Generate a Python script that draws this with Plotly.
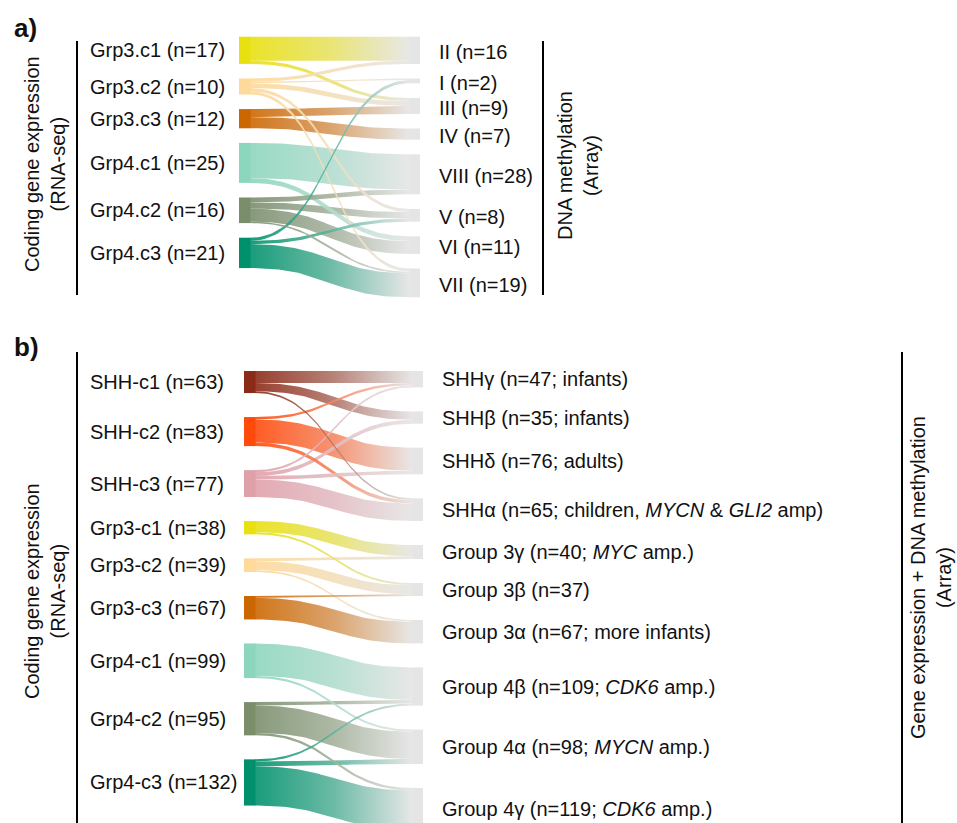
import numpy as np
import plotly.graph_objects as go

W, H = 957, 823
FONT = "Liberation Sans, Arial, Helvetica, sans-serif"

# ---------------- panel a data ----------------
A_LEFT = ["Grp3.c1", "Grp3.c2", "Grp3.c3", "Grp4.c1", "Grp4.c2", "Grp4.c3"]
A_LEFT_N = [17, 10, 12, 25, 16, 21]
A_RIGHT_LABELS = ["II (n=16", "I (n=2)", "III (n=9)", "IV (n=7)",
                  "VIII (n=28)", "V (n=8)", "VI (n=11)", "VII (n=19)"]
# rows: left clusters, cols: II, I, III, IV, VIII, V, VI, VII
A_FLOWS = [
    [15, 0, 2, 0, 0, 0, 0, 0],
    [2, 1, 3, 0, 0, 2, 0, 2],
    [0, 0, 5, 7, 0, 0, 0, 0],
    [0, 0, 0, 0, 22, 0, 3, 0],
    [0, 0, 0, 0, 3, 4, 8, 1],
    [0, 2, 0, 0, 0, 2, 0, 15],
]
A_COLORS = ["#e8e010", "#fdd99b", "#cc6600", "#8dd6be", "#7a8e6c", "#00916c"]

# ---------------- panel b data ----------------
B_LEFT = ["SHH-c1", "SHH-c2", "SHH-c3", "Grp3-c1", "Grp3-c2", "Grp3-c3",
          "Grp4-c1", "Grp4-c2", "Grp4-c3"]
B_LEFT_N = [63, 83, 77, 38, 39, 67, 99, 95, 132]
B_RIGHT_LABELS = [
    "SHHγ (n=47; infants)",
    "SHHβ (n=35; infants)",
    "SHHδ (n=76; adults)",
    "SHHα (n=65; children, <i>MYCN</i> & <i>GLI2</i> amp)",
    "Group 3γ (n=40; <i>MYC</i> amp.)",
    "Group 3β (n=37)",
    "Group 3α (n=67; more infants)",
    "Group 4β (n=109; <i>CDK6</i> amp.)",
    "Group 4α (n=98; <i>MYCN</i> amp.)",
    "Group 4γ (n=119; <i>CDK6</i> amp.)",
]
# cols: SHHg, SHHb, SHHd, SHHa, G3g, G3b, G3a, G4b, G4a, G4g
B_FLOWS = [
    [34, 24, 0, 5, 0, 0, 0, 0, 0, 0],
    [7, 0, 66, 10, 0, 0, 0, 0, 0, 0],
    [6, 11, 10, 50, 0, 0, 0, 0, 0, 0],
    [0, 0, 0, 0, 32, 6, 0, 0, 0, 0],
    [0, 0, 0, 0, 8, 26, 5, 0, 0, 0],
    [0, 0, 0, 0, 0, 5, 62, 0, 0, 0],
    [0, 0, 0, 0, 0, 0, 0, 93, 6, 0],
    [0, 0, 0, 0, 0, 0, 0, 10, 78, 7],
    [0, 0, 0, 0, 0, 0, 0, 6, 14, 112],
]
B_COLORS = ["#8b2a17", "#ff4a0c", "#e0a0aa", "#e8e010", "#fdd99b", "#cc6600",
            "#8dd6be", "#7a8e6c", "#00916c"]

# ---------------- layout geometry (styling) ----------------
GEOM_A = dict(top=36.7, scale=1.6, gap=14.6, lx0=239, lx1=250, rx0=410, rx1=420,
              llab=88, rlab=437, rlab_dy=2)
GEOM_B = dict(top=371, scale=0.35, gap=24, lx0=244, lx1=255, rx0=413, rx1=423,
              llab=88, rlab=440, rlab_dy=0)
NODE_GRAY = "#e5e5e5"
END_RGB = (229, 229, 229)
ALPHA = 0.9
MID_POS, MID_MIX = 0.5, 0.4

T = np.linspace(0, 1, 60)


def hex_rgb(h):
    h = h.lstrip("#")
    return tuple(int(h[i:i + 2], 16) for i in (0, 2, 4))


def mix(c, e, f):
    return tuple(round(a + (b - a) * f) for a, b in zip(c, e))


def stack(vals, g):
    pos, y = [], g["top"]
    for v in vals:
        pos.append((y, y + v * g["scale"]))
        y += v * g["scale"] + g["gap"]
    return pos


def curve(x0, x1, y0, y1):
    xm = (x0 + x1) / 2
    x = (1 - T) ** 3 * x0 + 3 * (1 - T) ** 2 * T * xm + 3 * (1 - T) * T ** 2 * xm + T ** 3 * x1
    y = (1 - T) ** 3 * y0 + 3 * (1 - T) ** 2 * T * y0 + 3 * (1 - T) * T ** 2 * y1 + T ** 3 * y1
    return x, y


fig = go.Figure()
shapes = []
annotations = []


def rgba(c, a):
    return f"rgba({c[0]},{c[1]},{c[2]},{a})"


def add_panel(flows, colors, g, left_names, left_n, right_labels):
    flows = np.array(flows)
    nL, nR = flows.shape
    lpos = stack(flows.sum(1), g)
    rpos = stack(flows.sum(0), g)
    lcur = [p[0] for p in lpos]
    segs = []
    for i in range(nL):
        for j in range(nR):
            v = flows[i, j]
            if v <= 0:
                continue
            y0 = lcur[i]
            lcur[i] = y0 + v * g["scale"]
            segs.append(dict(i=i, j=j, v=v, s0=y0, s1=lcur[i]))
    rcur = [p[0] for p in rpos]
    for s in segs:  # already ordered by source within each target
        s["t0"] = rcur[s["j"]]
        rcur[s["j"]] += s["v"] * g["scale"]
        s["t1"] = rcur[s["j"]]

    for s in sorted(segs, key=lambda d: -d["v"]):
        xa, ya = curve(g["lx1"], g["rx0"], s["s0"], s["t0"])
        xb, yb = curve(g["lx1"], g["rx0"], s["s1"], s["t1"])
        xs = np.concatenate([xa, xb[::-1], xa[:1]])
        ys = np.concatenate([ya, yb[::-1], ya[:1]])
        c = hex_rgb(colors[s["i"]])
        fig.add_trace(go.Scatter(
            x=xs, y=ys, mode="lines", line=dict(width=0),
            fill="toself",
            fillgradient=dict(type="horizontal", colorscale=[
                [0, rgba(c, ALPHA)],
                [MID_POS, rgba(mix(c, END_RGB, MID_MIX), ALPHA)],
                [1, rgba(END_RGB, ALPHA)]]),
            hoverinfo="skip", showlegend=False))

    for i, (y0, y1) in enumerate(lpos):
        shapes.append(dict(type="rect", xref="x", yref="y", x0=g["lx0"], x1=g["lx1"] + 0.5,
                           y0=y0, y1=y1, fillcolor=colors[i], line=dict(width=0), layer="above"))
        annotations.append(dict(x=g["llab"], y=(y0 + y1) / 2, xref="x", yref="y",
                                text=f"{left_names[i]} (n={left_n[i]})", showarrow=False,
                                xanchor="left", yanchor="middle",
                                font=dict(size=20, color="#111", family=FONT)))
    for j, (y0, y1) in enumerate(rpos):
        shapes.append(dict(type="rect", xref="x", yref="y", x0=g["rx0"] - 0.5, x1=g["rx1"],
                           y0=y0, y1=y1, fillcolor=NODE_GRAY, line=dict(width=0), layer="above"))
        annotations.append(dict(x=g["rlab"], y=(y0 + y1) / 2 + g["rlab_dy"], xref="x", yref="y",
                                text=right_labels[j], showarrow=False,
                                xanchor="left", yanchor="middle",
                                font=dict(size=20, color="#111", family=FONT)))


add_panel(A_FLOWS, A_COLORS, GEOM_A, A_LEFT, A_LEFT_N, A_RIGHT_LABELS)
add_panel(B_FLOWS, B_COLORS, GEOM_B, B_LEFT, B_LEFT_N, B_RIGHT_LABELS)


def vline(x, y0, y1):
    shapes.append(dict(type="line", xref="x", yref="y", x0=x, x1=x, y0=y0, y1=y1,
                       line=dict(color="black", width=2)))


vline(77, 41, 295)
vline(543, 41, 295)
vline(77, 352, 823)
vline(902, 352, 823)


def rot_title(x, y, text):
    annotations.append(dict(x=x, y=y, xref="x", yref="y", text=text, textangle=-90,
                            showarrow=False, xanchor="center", yanchor="middle",
                            font=dict(size=20, color="#111", family=FONT)))


rot_title(45, 164, "Coding gene expression<br>(RNA-seq)")
rot_title(578, 166, "DNA methylation<br>(Array)")
rot_title(45, 591, "Coding gene expression<br>(RNA-seq)")
rot_title(931, 578, "Gene expression + DNA methylation<br>(Array)")

for lab, yy in (("a)", 28), ("b)", 347)):
    annotations.append(dict(x=12, y=yy, xref="x", yref="y", text=f"<b>{lab}</b>",
                            showarrow=False, xanchor="left", yanchor="middle",
                            font=dict(size=26, color="#111", family=FONT)))

fig.update_layout(
    width=W, height=H, autosize=False,
    margin=dict(l=0, r=0, t=0, b=0),
    paper_bgcolor="white", plot_bgcolor="white",
    xaxis=dict(range=[0, W], visible=False, fixedrange=True),
    yaxis=dict(range=[H, 0], visible=False, fixedrange=True),
    shapes=shapes, annotations=annotations, showlegend=False,
)
fig.write_html("out.html")
